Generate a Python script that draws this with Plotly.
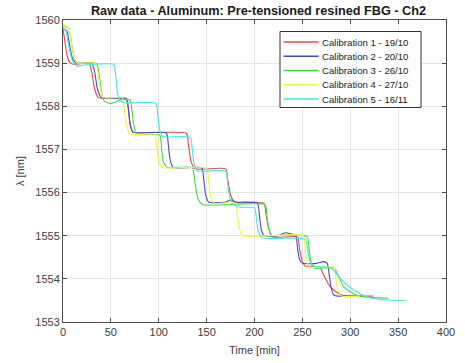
import plotly.graph_objects as go

# ---- data (time in min, wavelength in nm) ----
names = ["Calibration 1 - 19/10", "Calibration 2 - 20/10", "Calibration 3 - 26/10",
         "Calibration 4 - 27/10", "Calibration 5 - 16/11"]
colors = ["#e8484a", "#4a4ac8", "#40dc40", "#f4f43a", "#40e6e6"]

t1 = [0, 2, 4, 7, 12, 27, 30, 33, 37, 45, 66, 68, 70, 73, 80, 129, 131, 134, 138, 170, 172, 175, 179, 185,
      210, 212, 215, 219, 245, 247, 250, 253, 268, 272, 278, 285, 292, 324]
l1 = [1559.8, 1559.5, 1559.2, 1559.02, 1558.97, 1559.0, 1558.8, 1558.4, 1558.2, 1558.18, 1558.18, 1558.0,
      1557.6, 1557.4, 1557.38, 1557.37, 1557.1, 1556.7, 1556.55, 1556.55, 1556.3, 1555.95, 1555.78, 1555.76,
      1555.75, 1555.5, 1555.15, 1554.97, 1554.97, 1554.7, 1554.4, 1554.3, 1554.28, 1554.1, 1553.85, 1553.7,
      1553.62, 1553.6]

t2 = [0, 4, 7, 10, 14, 30, 33, 36, 40, 66, 68, 70, 73, 108, 110, 112, 115, 145, 147, 149, 152, 170, 175,
      180, 203, 205, 207, 210, 225, 232, 243, 245, 247, 250, 265, 272, 276, 278, 280, 283, 311]
l2 = [1559.8, 1559.75, 1559.4, 1559.1, 1559.0, 1559.0, 1558.8, 1558.4, 1558.2, 1558.18, 1558.0, 1557.6,
      1557.4, 1557.38, 1557.1, 1556.75, 1556.58, 1556.57, 1556.3, 1555.95, 1555.78, 1555.78, 1555.83,
      1555.78, 1555.76, 1555.5, 1555.15, 1555.0, 1555.0, 1555.07, 1555.0, 1554.7, 1554.45, 1554.36,
      1554.36, 1554.4, 1554.36, 1554.1, 1553.8, 1553.62, 1553.6]

t3 = [0, 6, 9, 12, 15, 35, 38, 40, 43, 50, 60, 70, 72, 74, 77, 101, 103, 105, 109, 135, 138, 141, 146,
      211, 213, 215, 218, 230, 255, 257, 259, 262, 283, 288, 293, 300, 307, 320, 340]
l3 = [1559.85, 1559.8, 1559.45, 1559.1, 1559.0, 1559.0, 1558.7, 1558.35, 1558.12, 1558.06, 1558.15,
      1558.15, 1557.9, 1557.55, 1557.35, 1557.33, 1557.0, 1556.7, 1556.58, 1556.58, 1556.2, 1555.85,
      1555.72, 1555.72, 1555.45, 1555.15, 1555.0, 1555.02, 1554.98, 1554.7, 1554.4, 1554.25, 1554.25,
      1554.05, 1553.82, 1553.7, 1553.62, 1553.57, 1553.55]

t4 = [0, 6, 9, 12, 15, 34, 37, 39, 42, 62, 64, 66, 70, 96, 98, 100, 103, 150, 152, 154, 157, 180, 182,
      184, 187, 251, 253, 255, 258, 283, 285, 287, 291, 310]
l4 = [1559.9, 1559.8, 1559.45, 1559.1, 1559.0, 1559.0, 1558.7, 1558.4, 1558.2, 1558.2, 1557.95, 1557.6,
      1557.35, 1557.35, 1557.05, 1556.75, 1556.58, 1556.57, 1556.3, 1555.95, 1555.76, 1555.75, 1555.5,
      1555.2, 1555.0, 1555.0, 1554.7, 1554.4, 1554.27, 1554.27, 1554.0, 1553.75, 1553.6, 1553.6]

t5 = [0, 3, 6, 10, 15, 20, 30, 53, 55, 57, 60, 65, 97, 99, 101, 104, 133, 135, 137, 140, 170, 172, 174,
      178, 185, 200, 202, 204, 208, 253, 256, 258, 262, 280, 290, 300, 315, 330, 358]
l5 = [1559.8, 1559.75, 1559.4, 1559.05, 1558.92, 1558.95, 1558.97, 1558.97, 1558.7, 1558.3, 1558.12,
      1558.08, 1558.07, 1557.8, 1557.45, 1557.3, 1557.28, 1557.0, 1556.65, 1556.5, 1556.5, 1556.2,
      1555.9, 1555.72, 1555.66, 1555.65, 1555.4, 1555.1, 1554.95, 1554.92, 1554.6, 1554.4, 1554.3,
      1554.25, 1554.0, 1553.8, 1553.6, 1553.52, 1553.5]

series = [(t1, l1), (t2, l2), (t3, l3), (t4, l4), (t5, l5)]

x_ticks = [0, 50, 100, 150, 200, 250, 300, 350, 400]
y_ticks = [1553, 1554, 1555, 1556, 1557, 1558, 1559, 1560]

FONT = "Liberation Sans"

# plot area in pixels
L, R, T, B = 63, 446, 20, 322
W, H = 465, 363


def px_x(p):
    return (p - L) / (R - L)


def px_y(p):
    return (B - p) / (B - T)


fig = go.Figure()
for (t, l), n, c in zip(series, names, colors):
    fig.add_trace(go.Scatter(x=t, y=l, mode="lines", name=n, showlegend=False,
                             line=dict(color=c, width=1.1, shape="spline", smoothing=0.5)))

axis_common = dict(showgrid=True, gridcolor="#e3e3e3", gridwidth=1, zeroline=False,
                   showline=True, linecolor="#4d4d4d", linewidth=1, mirror="ticks",
                   ticks="inside", ticklen=4, tickcolor="#4d4d4d", automargin=False,
                   tickfont=dict(family=FONT, size=11, color="#404040"))

# manual legend (box, line samples, labels)
shapes = [dict(type="rect", xref="paper", yref="paper",
               x0=px_x(280), x1=px_x(421), y0=px_y(107.5), y1=px_y(31.5),
               line=dict(color="#333333", width=1), fillcolor="white", layer="above")]
annotations = []
for i, (n, c) in enumerate(zip(names, colors)):
    yy = 42 + 14.25 * i
    shapes.append(dict(type="line", xref="paper", yref="paper",
                       x0=px_x(283.5), x1=px_x(318.5), y0=px_y(yy), y1=px_y(yy),
                       line=dict(color=c, width=1.3), layer="above"))
    annotations.append(dict(xref="paper", yref="paper", x=px_x(320), y=px_y(yy),
                            xanchor="left", yanchor="middle", showarrow=False, text=n,
                            font=dict(family=FONT, size=9.6, color="#222222")))

# axis titles
annotations.append(dict(xref="paper", yref="paper", x=px_x(255), y=px_y(350),
                        xanchor="center", yanchor="middle", showarrow=False, text="Time [min]",
                        font=dict(family=FONT, size=11, color="#404040")))
annotations.append(dict(xref="paper", yref="paper", x=px_x(20), y=px_y(171),
                        xanchor="center", yanchor="middle", showarrow=False, text="λ [nm]",
                        textangle=-90, font=dict(family=FONT, size=11, color="#404040")))

fig.update_layout(
    width=W, height=H,
    margin=dict(l=L, r=W - R, t=T, b=H - B),
    paper_bgcolor="white", plot_bgcolor="white",
    title=dict(text="<b>Raw data - Aluminum: Pre-tensioned resined FBG - Ch2</b>",
               x=(85 + 432) / 2 / W, xanchor="center", y=1 - 11 / H, yanchor="middle",
               font=dict(family=FONT, size=12.7, color="#1a1a1a")),
    xaxis=dict(range=[0, 400], tickvals=x_ticks, **axis_common),
    yaxis=dict(range=[1553, 1560], tickvals=y_ticks, **axis_common),
    shapes=shapes,
    annotations=annotations,
    showlegend=False,
)

fig.write_html("out.html")
